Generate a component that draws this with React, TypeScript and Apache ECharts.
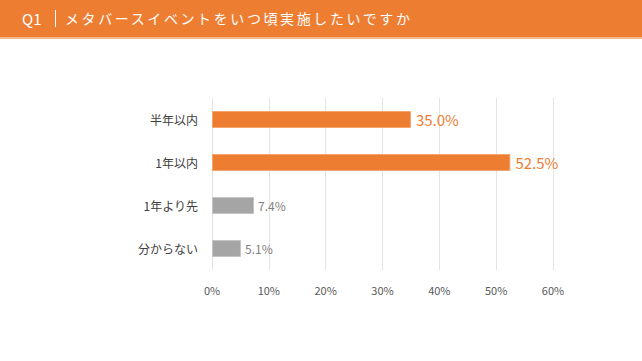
import React, { useEffect, useRef } from "react";
import * as echarts from "echarts";

const title = "Q1";
const question = "メタバースイベントをいつ頃実施したいですか";
const categories = ["半年以内", "1年以内", "1年より先", "分からない"];
const values = [35.0, 52.5, 7.4, 5.1];
const highlight = [true, true, false, false];
const xTicks = [0, 10, 20, 30, 40, 50, 60];

const ORANGE = "#ED7D31";
const GRAY = "#A5A5A5";
const FONT = "'Noto Sans CJK JP', 'Noto Sans', sans-serif";

export default function App() {
  const ref = useRef<HTMLDivElement>(null);
  useEffect(() => {
    if (!ref.current) return;
    const chart = echarts.init(ref.current, undefined, { renderer: "svg" });
    chart.setOption({
      animation: false,
      backgroundColor: "#ffffff",
      textStyle: { fontFamily: FONT },
      grid: { left: 212, right: 89, top: 98, bottom: 91 },
      xAxis: {
        type: "value",
        min: xTicks[0],
        max: xTicks[xTicks.length - 1],
        interval: 10,
        axisLine: { show: false },
        axisTick: { show: false },
        splitLine: { show: true, lineStyle: { color: "#E3E3E3", width: 1 } },
        axisLabel: {
          formatter: "{value}%",
          color: "#595959",
          fontSize: 11,
          margin: 14,
          fontFamily: FONT,
        },
      },
      yAxis: {
        type: "category",
        data: categories,
        inverse: true,
        axisLine: { show: false },
        axisTick: { show: false },
        axisLabel: { color: "#404040", fontSize: 12, margin: 14, fontFamily: FONT },
      },
      series: [
        {
          type: "bar",
          barWidth: 17,
          data: values.map((v, i) => ({
            value: v,
            itemStyle: {
              color: highlight[i] ? ORANGE : GRAY,
              borderColor: highlight[i] ? "#F4A46E" : "#C4C4C4",
              borderWidth: 1,
            },
            label: {
              show: true,
              position: "right",
              distance: highlight[i] ? 5 : 4,
              formatter: (p: any) => p.value.toFixed(1) + "%",
              color: highlight[i] ? ORANGE : "#7F7F7F",
              fontSize: highlight[i] ? 15 : 12,
              fontFamily: FONT,
            },
          })),
        },
      ],
    });
    return () => chart.dispose();
  }, []);

  return (
    <div style={{ position: "fixed", left: 0, top: 0, width: 642, height: 361, background: "#fff" }}>
      <div
        style={{
          position: "absolute",
          left: 0,
          top: 0,
          width: 642,
          height: 37,
          background: ORANGE,
          borderBottom: "2px solid #F5B78C",
          color: "#fff",
          fontFamily: FONT,
          fontSize: 14,
          lineHeight: "37px",
          whiteSpace: "nowrap",
          zIndex: 2,
        }}
      >
        <span style={{ position: "absolute", left: 22, fontSize: 15 }}>{title}</span>
        <span
          style={{
            position: "absolute",
            left: 55,
            top: 10,
            width: 1,
            height: 17,
            background: "#fff",
          }}
        />
        <span style={{ position: "absolute", left: 65, letterSpacing: "2.6px" }}>{question}</span>
      </div>
      <div ref={ref} style={{ position: "absolute", left: 0, top: 0, width: 642, height: 361 }} />
    </div>
  );
}
